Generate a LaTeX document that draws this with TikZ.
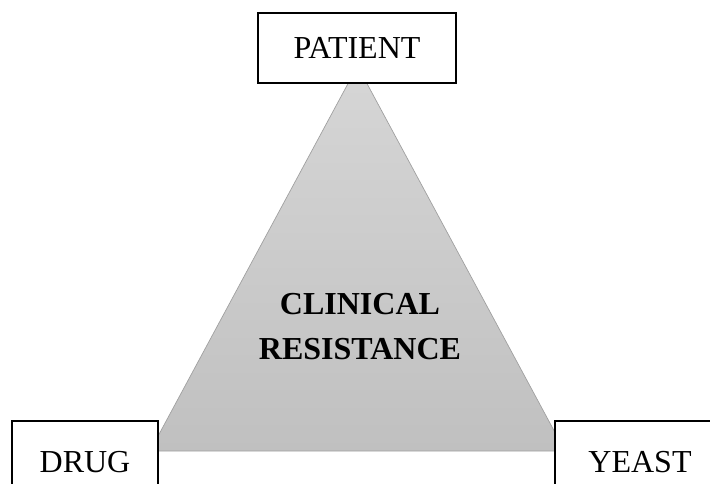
\documentclass[tikz,border=0pt]{standalone}
\usepackage{fontspec}
\setmainfont{Liberation Serif}
\definecolor{tritop}{RGB}{214,214,214}
\definecolor{tribot}{RGB}{192,192,192}
\definecolor{triedge}{RGB}{160,160,160}
\begin{document}
\begin{tikzpicture}[x=1pt,y=-1pt,
    corner/.style={draw=black,fill=white,line width=1.8pt,inner sep=0pt,font=\fontsize{32}{38}\selectfont},
    core/.style={align=center,inner sep=0pt,font=\fontsize{32}{45}\selectfont\bfseries}]
    \useasboundingbox (0,0) rectangle (710,484);
    \clip (0,0) rectangle (710,484);
    \coordinate (apex) at (357.5,66);
    \coordinate (baseleft) at (150,451);
    \coordinate (baseright) at (565,451);
    \shade[top color=tritop,bottom color=tribot,draw=triedge,line width=.7pt] (apex) -- (baseleft) -- (baseright) -- cycle;
    \node[core] (resist) at (360,327) {CLINICAL\\RESISTANCE};
    \node[corner,minimum width=198pt,minimum height=70pt] (patient) at (357,48) {PATIENT};
    \node[corner,minimum width=146pt,minimum height=82pt] (drug) at (85,462) {DRUG};
    \node[corner,minimum width=170pt,minimum height=82pt] (yeast) at (640,462) {YEAST};
\end{tikzpicture}
\end{document}
